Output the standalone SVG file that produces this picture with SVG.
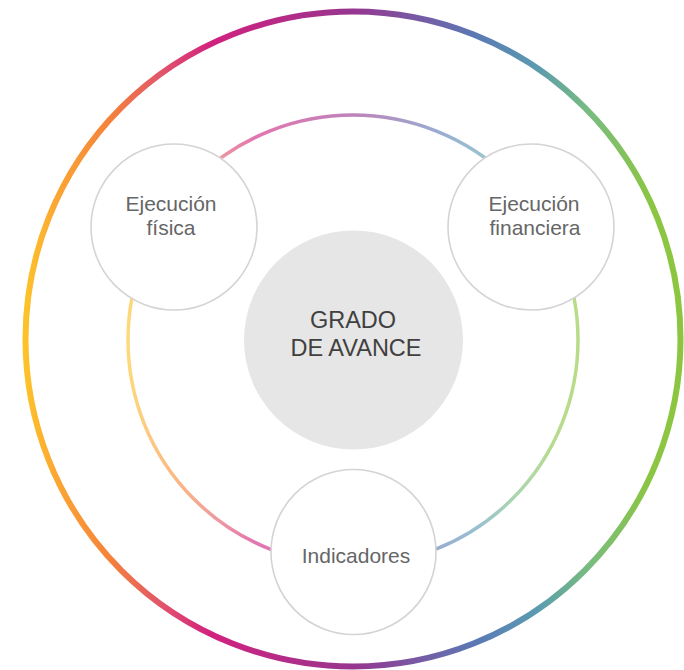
<svg xmlns="http://www.w3.org/2000/svg" width="684" height="670" viewBox="0 0 684 670">
  <defs>
    <linearGradient id="ring" x1="0" y1="0" x2="1" y2="0">
      <stop offset="0" stop-color="#fdc22a"/>
      <stop offset="0.044" stop-color="#fba833"/>
      <stop offset="0.13" stop-color="#f5813b"/>
      <stop offset="0.206" stop-color="#e1566a"/>
      <stop offset="0.282" stop-color="#d2217f"/>
      <stop offset="0.5" stop-color="#96368f"/>
      <stop offset="0.69" stop-color="#5a7ab5"/>
      <stop offset="0.78" stop-color="#5b9bb0"/>
      <stop offset="0.86" stop-color="#78bc80"/>
      <stop offset="0.95" stop-color="#8bc545"/>
      <stop offset="1" stop-color="#8cc63f"/>
    </linearGradient>
    <style>
      .node { fill: #ffffff; stroke: #d4d4d4; stroke-width: 1.6; }
      .lbl { font-family: "Liberation Sans", Arial, sans-serif; font-size: 21px; fill: #666666; text-anchor: middle; }
      .center { font-family: "Liberation Sans", Arial, sans-serif; font-size: 23.5px; fill: #404040; text-anchor: middle; }
    </style>
  </defs>
  <rect width="684" height="670" fill="#ffffff"/>
  <g id="connectors">
    <circle cx="353" cy="339" r="327.5" fill="none" stroke="url(#ring)" stroke-width="6"/>
    <circle cx="353" cy="340" r="225" fill="none" stroke="url(#ring)" stroke-width="3.5" stroke-opacity="0.62"/>
  </g>
  <g id="grado">
    <circle cx="353.5" cy="340" r="109.5" fill="#e6e6e6"/>
    <text class="center" x="353" y="328">GRADO</text>
    <text class="center" x="356" y="356">DE AVANCE</text>
  </g>
  <g id="fisica">
    <circle class="node" cx="174" cy="227" r="83"/>
    <text class="lbl" x="171" y="211">Ejecución</text>
    <text class="lbl" x="171" y="235">física</text>
  </g>
  <g id="financiera">
    <circle class="node" cx="531" cy="227" r="83"/>
    <text class="lbl" x="534" y="211">Ejecución</text>
    <text class="lbl" x="535" y="235">financiera</text>
  </g>
  <g id="indicadores">
    <circle class="node" cx="353.5" cy="552" r="82.5"/>
    <text class="lbl" x="356" y="563">Indicadores</text>
  </g>
</svg>
